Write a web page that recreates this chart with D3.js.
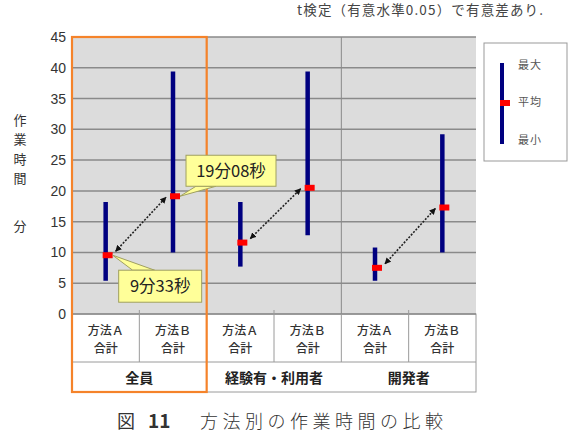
<!DOCTYPE html>
<html>
<head>
<meta charset="utf-8">
<script src="https://cdn.jsdelivr.net/npm/d3@7"></script>
<style>
  body { margin: 0; background: #fff; }
  svg { display: block; }
  text { font-family: "Noto Sans CJK JP", "Liberation Sans", sans-serif; }
</style>
</head>
<body>
<svg id="chart" width="569" height="442"></svg>
<script>
// data (minutes)
var groups   = ["全員", "経験有・利用者", "開発者"];
var methods  = ["方法Ａ", "方法Ｂ"];
var maxVals  = [18.2, 39.4, 18.2, 39.4, 10.8, 29.2];
var minVals  = [5.4, 10.0, 7.7, 12.8, 5.4, 10.0];
var meanVals = [9.55, 19.13, 11.6, 20.5, 7.5, 17.3];
var yTicks   = [0, 5, 10, 15, 20, 25, 30, 35, 40, 45];
var callouts = [{idx: 0, label: "9分33秒"}, {idx: 1, label: "19分08秒"}];
var legendLabels = ["最大", "平均", "最小"];

var cats = [];
groups.forEach(function(g, gi){
    methods.forEach(function(m, mi){
        cats.push({id: gi + "_" + mi, group: g, method: m, i: gi * 2 + mi});
    });
});

var svg = d3.select("#chart");
var plot = {left: 72, right: 476, top: 37, bottom: 314};
var tbl  = {row1: 362, bottom: 392};

var x = d3.scaleBand().domain(cats.map(function(d){ return d.id; }))
          .range([plot.left, plot.right]);
var gx = d3.scaleBand().domain(groups).range([plot.left, plot.right]);
var y = d3.scaleLinear().domain([0, 45]).range([plot.bottom, plot.top]);

function cx(i){ return x(cats[i].id) + x.bandwidth() / 2; }

// plot background
svg.append("rect")
    .attr("x", plot.left).attr("y", plot.top)
    .attr("width", plot.right - plot.left).attr("height", plot.bottom - plot.top)
    .attr("fill", "#dcdcdc");

// horizontal grid
svg.append("g").selectAll("line").data(yTicks.slice(1)).enter().append("line")
    .attr("x1", plot.left).attr("x2", plot.right)
    .attr("y1", function(d){ return y(d); }).attr("y2", function(d){ return y(d); })
    .attr("stroke", "#8a8a8a").attr("stroke-width", 1.5);

// group separators in plot area and table
svg.append("g").selectAll("line").data(groups.slice(1)).enter().append("line")
    .attr("x1", function(d){ return gx(d); }).attr("x2", function(d){ return gx(d); })
    .attr("y1", plot.top).attr("y2", tbl.bottom)
    .attr("stroke", "#8a8a8a").attr("stroke-width", 1);

// table under the plot
svg.append("rect")
    .attr("x", plot.left).attr("y", plot.bottom)
    .attr("width", plot.right - plot.left).attr("height", tbl.bottom - plot.bottom)
    .attr("fill", "#fff").attr("stroke", "#9a9a9a").attr("stroke-width", 1);
svg.append("line")
    .attr("x1", plot.left).attr("x2", plot.right)
    .attr("y1", plot.bottom).attr("y2", plot.bottom)
    .attr("stroke", "#8a8a8a").attr("stroke-width", 1.5);
svg.append("line")
    .attr("x1", plot.left).attr("x2", plot.right)
    .attr("y1", tbl.row1).attr("y2", tbl.row1)
    .attr("stroke", "#9a9a9a").attr("stroke-width", 1);
svg.append("g").selectAll("line").data(cats.filter(function(d){ return d.i > 0; })).enter().append("line")
    .attr("x1", function(d){ return x(d.id); }).attr("x2", function(d){ return x(d.id); })
    .attr("y1", function(d){ return d.i % 2 == 0 ? plot.bottom : plot.bottom - 4; })
    .attr("y2", tbl.row1)
    .attr("stroke", "#9a9a9a").attr("stroke-width", 1);

// category labels (two lines each)
var catLbl = svg.append("g").attr("text-anchor", "middle").attr("font-size", 12)
    .attr("font-weight", 500).attr("fill", "#333");
catLbl.selectAll("text.m").data(cats).enter().append("text").attr("class", "m")
    .attr("x", function(d){ return cx(d.i); }).attr("y", 335)
    .text(function(d){ return d.method; });
catLbl.selectAll("text.s").data(cats).enter().append("text").attr("class", "s")
    .attr("x", function(d){ return cx(d.i); }).attr("y", 353)
    .text("合計");

svg.append("g").selectAll("text").data(groups).enter().append("text")
    .attr("x", function(d){ return gx(d) + gx.bandwidth() / 2; })
    .attr("y", 383)
    .attr("text-anchor", "middle").attr("font-size", 14).attr("font-weight", "bold")
    .attr("fill", "#222")
    .text(function(d){ return d; });

// y tick labels
svg.append("g").selectAll("text").data(yTicks).enter().append("text")
    .attr("x", 66).attr("y", function(d){ return y(d); })
    .attr("dy", "0.36em")
    .attr("text-anchor", "end")
    .attr("font-size", 14).attr("fill", "#333")
    .style("font-family", "'Liberation Sans', sans-serif")
    .text(function(d){ return d; });

// y axis label (vertical)
svg.append("g").selectAll("text").data("作業時間".split("")).enter().append("text")
    .attr("x", 20).attr("y", function(d, i){ return 120 + i * 19.5; })
    .attr("dy", "0.36em").attr("text-anchor", "middle")
    .attr("font-size", 13).attr("fill", "#333")
    .text(function(d){ return d; });
svg.append("text")
    .attr("x", 20).attr("y", 226).attr("dy", "0.36em").attr("text-anchor", "middle")
    .attr("font-size", 13).attr("fill", "#333").text("分");

// orange highlight around first group
svg.append("rect")
    .attr("x", gx(groups[0])).attr("y", plot.top)
    .attr("width", gx.bandwidth()).attr("height", tbl.bottom - plot.top)
    .attr("fill", "none").attr("stroke", "#f5832a").attr("stroke-width", 2.2);

// arrow markers
var defs = svg.append("defs");
defs.append("marker").attr("id", "ah").attr("viewBox", "0 0 10 10")
    .attr("refX", 9).attr("refY", 5).attr("markerWidth", 4).attr("markerHeight", 4)
    .attr("orient", "auto-start-reverse")
    .append("path").attr("d", "M0,0L10,5L0,10z").attr("fill", "#111");

// dotted double arrows between A and B means
svg.append("g").selectAll("line").data(groups).enter().append("line")
    .attr("x1", function(d, gi){ return cx(gi * 2) + 10; })
    .attr("y1", function(d, gi){ return y(meanVals[gi * 2]) - 4; })
    .attr("x2", function(d, gi){ return cx(gi * 2 + 1) - 7; })
    .attr("y2", function(d, gi){ return y(meanVals[gi * 2 + 1]) + 1; })
    .attr("stroke", "#222").attr("stroke-width", 1.6)
    .attr("stroke-dasharray", "2,1.5")
    .attr("marker-start", "url(#ah)").attr("marker-end", "url(#ah)");

// min-max bars
svg.append("g").selectAll("line").data(cats).enter().append("line")
    .attr("x1", function(d){ return cx(d.i); }).attr("x2", function(d){ return cx(d.i); })
    .attr("y1", function(d){ return y(maxVals[d.i]); })
    .attr("y2", function(d){ return y(minVals[d.i]); })
    .attr("stroke", "#000080").attr("stroke-width", 4.5);

// mean markers
svg.append("g").selectAll("rect").data(cats).enter().append("rect")
    .attr("x", function(d){ return cx(d.i) - 3; })
    .attr("y", function(d){ return y(meanVals[d.i]) - 3; })
    .attr("width", 10).attr("height", 6)
    .attr("fill", "#ff0000");

// callouts
var boxes = [
    {dx: 6, dy: 15, w: 83, h: 32, tip: [[20, 15], [42, 15]]},
    {dx: 6, dy: -41, w: 90, h: 31, tip: [[16, -10], [36, -10]]}
];
callouts.forEach(function(c, k){
    var b = boxes[k];
    var mx = cx(c.idx) + 7, my = y(meanVals[c.idx]);
    var g = svg.append("g");
    var bx = mx + b.dx, by = my + b.dy;
    g.append("path")
        .attr("d", "M" + mx + "," + my + "L" + (mx + b.tip[0][0]) + "," + (my + b.tip[0][1]) +
                   "L" + (mx + b.tip[1][0]) + "," + (my + b.tip[1][1]) + "Z")
        .attr("fill", "#ffff99").attr("stroke", "#a0a060").attr("stroke-width", 1);
    g.append("rect")
        .attr("x", bx).attr("y", by).attr("width", b.w).attr("height", b.h)
        .attr("fill", "#ffff99").attr("stroke", "#a0a060").attr("stroke-width", 1);
    g.append("text")
        .attr("x", bx + b.w / 2).attr("y", by + b.h / 2).attr("dy", "0.36em")
        .attr("text-anchor", "middle").attr("font-size", 16.5).attr("fill", "#222")
        .text(c.label);
});

// legend
var lg = svg.append("g");
lg.append("rect").attr("x", 484).attr("y", 43).attr("width", 83).attr("height", 118)
    .attr("fill", "#fff").attr("stroke", "#999").attr("stroke-width", 1);
lg.append("line").attr("x1", 502).attr("x2", 502).attr("y1", 63).attr("y2", 144)
    .attr("stroke", "#000080").attr("stroke-width", 4);
lg.append("rect").attr("x", 500).attr("y", 100).attr("width", 10).attr("height", 6)
    .attr("fill", "#ff0000");
lg.selectAll("text").data(legendLabels).enter().append("text")
    .attr("x", 518).attr("y", function(d, i){ return 65 + i * 37.5; })
    .attr("dy", "0.36em").attr("font-size", 11).attr("fill", "#555")
    .attr("letter-spacing", 1)
    .text(function(d){ return d; });

// note on top
svg.append("text")
    .attr("x", 297).attr("y", 15)
    .attr("font-size", 13.5).attr("fill", "#444")
    .attr("textLength", 246).attr("lengthAdjust", "spacing")
    .text("t検定（有意水準0.05）で有意差あり.");

// caption
var cap = svg.append("g").attr("fill", "#333");
cap.append("text").attr("x", 117).attr("y", 428).attr("font-size", 18).text("図");
cap.append("text").attr("x", 148).attr("y", 428).attr("font-size", 19)
    .attr("font-weight", "bold").attr("font-family", "'DejaVu Serif', serif").text("11");
cap.append("text").attr("x", 200).attr("y", 428).attr("font-size", 18)
    .attr("font-weight", 300).attr("letter-spacing", 4.5).text("方法別の作業時間の比較");
</script>
</body>
</html>
